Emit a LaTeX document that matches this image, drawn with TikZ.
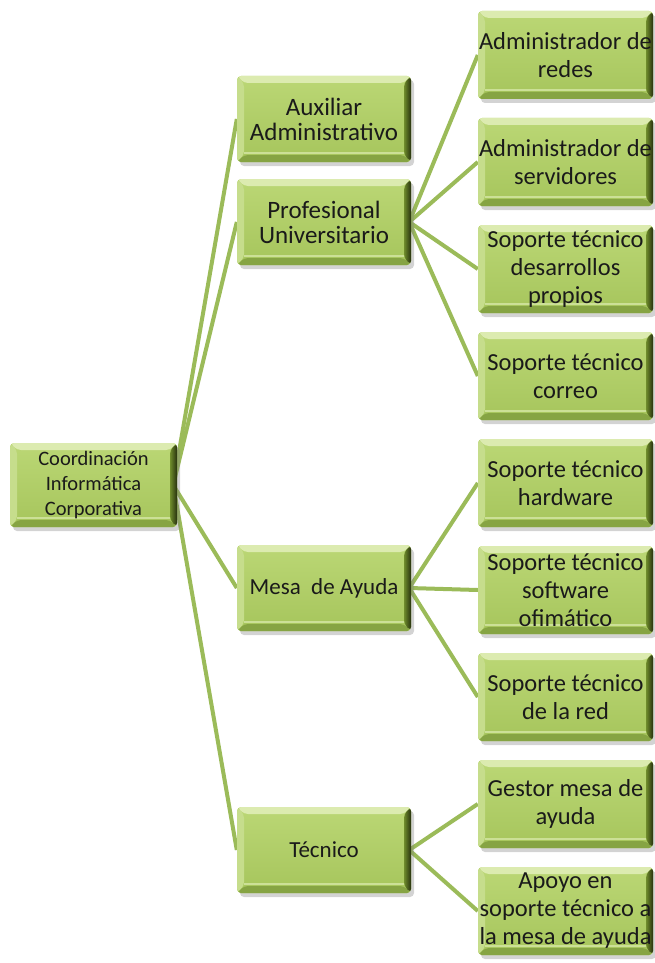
\documentclass[tikz,border=0pt]{standalone}
\usepackage{fontspec}
\setmainfont{Carlito}
\usetikzlibrary{calc,shadows,backgrounds}

\definecolor{linkgreen}{HTML}{9BBB59}
\definecolor{faceT}{HTML}{BBD775}
\definecolor{faceB}{HTML}{A6C55C}
\definecolor{bevTop}{HTML}{DCEBB0}
\definecolor{bevLeft}{HTML}{C6DD8C}
\definecolor{bevBot}{HTML}{86A443}
\definecolor{bevRa}{HTML}{6F8C2C}
\definecolor{bevRb}{HTML}{27310E}
\definecolor{txt}{HTML}{1A1A1A}

\def\bvw{7pt}

\tikzset{
  bevel/.style={
    path picture={
      \fill[bevTop] let \p1=(path picture bounding box.south west),
                        \p2=(path picture bounding box.north east) in
        (\x1,\y2) -- (\x2,\y2) -- (\x2-\bvw,\y2-\bvw) -- (\x1+\bvw,\y2-\bvw) -- cycle;
      \fill[bevLeft] let \p1=(path picture bounding box.south west),
                         \p2=(path picture bounding box.north east) in
        (\x1,\y2) -- (\x1+\bvw,\y2-\bvw) -- (\x1+\bvw,\y1+\bvw) -- (\x1,\y1) -- cycle;
      \fill[bevBot] let \p1=(path picture bounding box.south west),
                        \p2=(path picture bounding box.north east) in
        (\x1,\y1) -- (\x1+\bvw,\y1+\bvw) -- (\x2-\bvw,\y1+\bvw) -- (\x2,\y1) -- cycle;
      \draw[bevTop!70!faceB, line width=1.2pt] let \p1=(path picture bounding box.south west),
                        \p2=(path picture bounding box.north east) in
        (\x1+\bvw,\y1+\bvw+2pt) -- (\x2-\bvw,\y1+\bvw+2pt);
      \shade[left color=bevRa, right color=bevRb] let \p1=(path picture bounding box.south west),
                        \p2=(path picture bounding box.north east) in
        (\x2,\y2) -- (\x2-\bvw,\y2-\bvw) -- (\x2-\bvw,\y1+\bvw) -- (\x2,\y1) -- cycle;
    }
  },
  orgbox/.style={
    rectangle, rounded corners=4pt, inner sep=0pt, align=center, text=txt,
    top color=faceT, bottom color=faceB,
    drop shadow={shadow xshift=3pt, shadow yshift=-4pt, opacity=0.35},
    bevel
  },
  rootbox/.style={orgbox, minimum width=167pt, minimum height=84pt,
    font=\fontsize{20.5}{25}\selectfont},
  midbox/.style={orgbox, minimum width=174pt, minimum height=86pt,
    font=\fontsize{25}{25}\selectfont},
  midboxs/.style={midbox, font=\fontsize{23}{25}\selectfont},
  leafbox/.style={orgbox, minimum width=175pt, minimum height=88pt,
    font=\fontsize{24.5}{28}\selectfont},
  link/.style={draw=linkgreen, line width=4pt}
}

\begin{document}
\begin{tikzpicture}[x=1pt, y=-1pt]
  \useasboundingbox (0,0) rectangle (655,963);

  % root
  \node[rootbox] (root) at (93.5,485) {Coordinación\\Informática\\Corporativa};

  % second level
  \node[midbox]  (aux)  at (324,119) {Auxiliar\\Administrativo};
  \node[midbox]  (prof) at (324,222) {Profesional\\Universitario};
  \node[midboxs] (mesa) at (324,588) {Mesa\ \ de Ayuda};
  \node[midboxs] (tec)  at (324,850) {Técnico};

  % third level
  \node[leafbox] (redes) at (565.5,55)  {Administrador de\\redes};
  \node[leafbox] (serv)  at (565.5,162) {Administrador de\\servidores};
  \node[leafbox] (desa)  at (565.5,269) {Soporte técnico\\desarrollos\\propios};
  \node[leafbox] (corr)  at (565.5,376) {Soporte técnico\\correo};
  \node[leafbox] (hw)    at (565.5,483) {Soporte técnico\\hardware};
  \node[leafbox] (sw)    at (565.5,590) {Soporte técnico\\software\\ofimático};
  \node[leafbox] (red)   at (565.5,697) {Soporte técnico\\de la red};
  \node[leafbox] (gest)  at (565.5,804) {Gestor mesa de\\ayuda};
  \node[leafbox] (apoyo) at (565.5,911) {Apoyo en\\soporte técnico a\\la mesa de ayuda};

  % connectors
  \begin{scope}[on background layer]
    \foreach \c in {aux,prof,mesa,tec}
      \draw[link] ([xshift=-4pt]root.east) -- (\c.west);
    \foreach \c in {redes,serv,desa,corr}
      \draw[link] ([xshift=-2pt]prof.east) -- (\c.west);
    \foreach \c in {hw,sw,red}
      \draw[link] ([xshift=-2pt]mesa.east) -- (\c.west);
    \foreach \c in {gest,apoyo}
      \draw[link] ([xshift=-2pt]tec.east) -- (\c.west);
  \end{scope}
\end{tikzpicture}
\end{document}
